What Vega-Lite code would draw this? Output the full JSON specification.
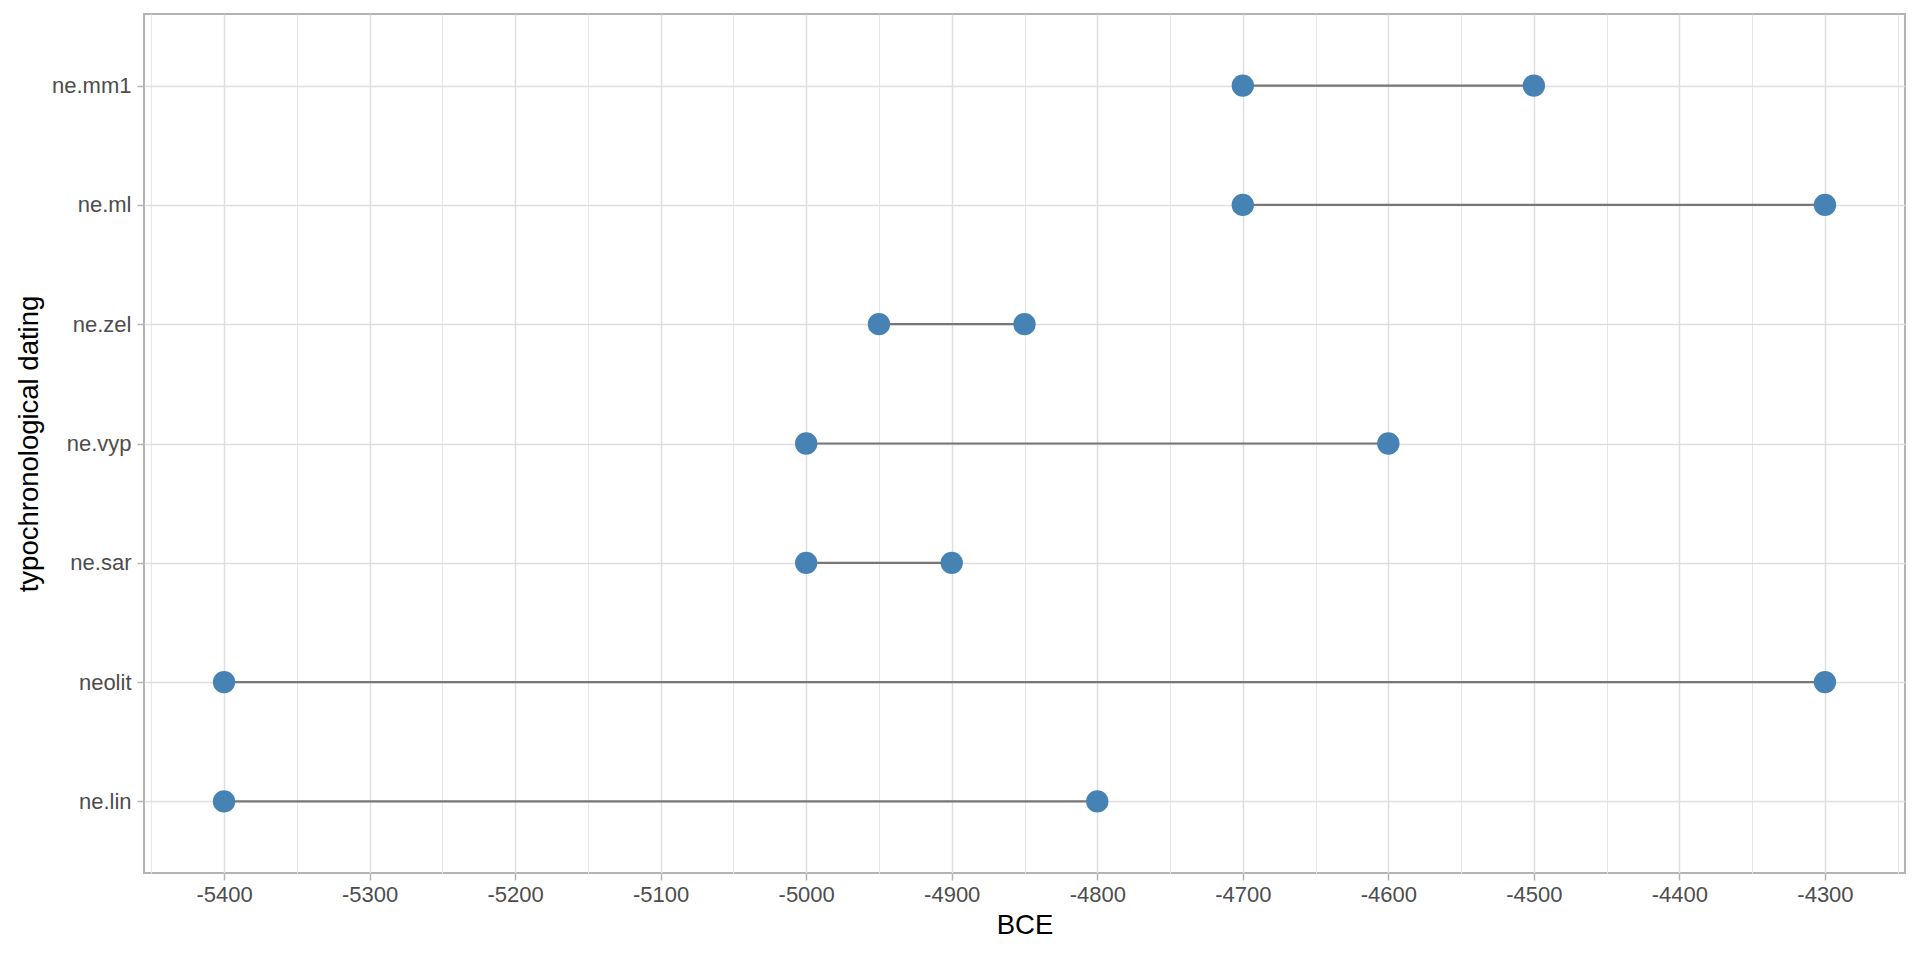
{
  "$schema": "https://vega.github.io/schema/vega-lite/v6.json",
  "autosize": "none",
  "width": 1761,
  "height": 859,
  "padding": {"left": 144, "top": 14, "right": 15, "bottom": 87},
  "background": "white",
  "config": {
    "font": "Liberation Sans",
    "view": {"stroke": "#b3b3b3", "strokeWidth": 2},
    "axis": {
      "domain": false,
      "labelFont": "Liberation Sans",
      "labelFontSize": 22,
      "labelColor": "#4d4d4d",
      "titleFont": "Liberation Sans",
      "titleFontSize": 27.5,
      "titleFontWeight": "normal",
      "titleColor": "#000000",
      "tickColor": "#b3b3b3",
      "tickSize": 7,
      "tickWidth": 1.5,
      "gridColor": "#dedede"
    }
  },
  "data": {
    "values": [
      {"dating": "ne.mm1", "start": -4700, "end": -4500},
      {"dating": "ne.ml", "start": -4700, "end": -4300},
      {"dating": "ne.zel", "start": -4950, "end": -4850},
      {"dating": "ne.vyp", "start": -5000, "end": -4600},
      {"dating": "ne.sar", "start": -5000, "end": -4900},
      {"dating": "neolit", "start": -5400, "end": -4300},
      {"dating": "ne.lin", "start": -5400, "end": -4800}
    ]
  },
  "encoding": {
    "y": {
      "field": "dating",
      "type": "nominal",
      "scale": {
        "type": "point",
        "padding": 0.6,
        "domain": ["ne.mm1", "ne.ml", "ne.zel", "ne.vyp", "ne.sar", "neolit", "ne.lin"]
      },
      "axis": {
        "title": "typochronological dating",
        "grid": true,
        "labelPadding": 6,
        "titlePadding": 8,
        "gridWidth": 1.5
      }
    }
  },
  "layer": [
    {
      "mark": {"type": "rule", "color": "#777777", "strokeWidth": 2.2},
      "encoding": {
        "x": {
          "field": "start",
          "type": "quantitative",
          "scale": {"domain": [-5455, -4245], "nice": false, "zero": false},
          "axis": {
            "title": "BCE",
            "values": [-5450, -5400, -5350, -5300, -5250, -5200, -5150, -5100, -5050, -5000, -4950, -4900, -4850, -4800, -4750, -4700, -4650, -4600, -4550, -4500, -4450, -4400, -4350, -4300, -4250],
            "labelExpr": "datum.value % 100 === 0 ? '' + datum.value : ''",
            "labelPadding": 4,
            "titlePadding": 6,
            "tickOpacity": {"condition": {"test": "datum.value % 100 === 0", "value": 1}, "value": 0},
            "gridWidth": {"condition": {"test": "datum.value % 100 === 0", "value": 1.5}, "value": 1},
            "gridColor": {"condition": {"test": "datum.value % 100 === 0", "value": "#dedede"}, "value": "#e6e6e6"}
          }
        },
        "x2": {"field": "end"}
      }
    },
    {
      "mark": {"type": "point", "filled": true, "opacity": 1, "size": 500, "color": "#4682b4"},
      "encoding": {"x": {"field": "start", "type": "quantitative"}}
    },
    {
      "mark": {"type": "point", "filled": true, "opacity": 1, "size": 500, "color": "#4682b4"},
      "encoding": {"x": {"field": "end", "type": "quantitative"}}
    }
  ]
}
